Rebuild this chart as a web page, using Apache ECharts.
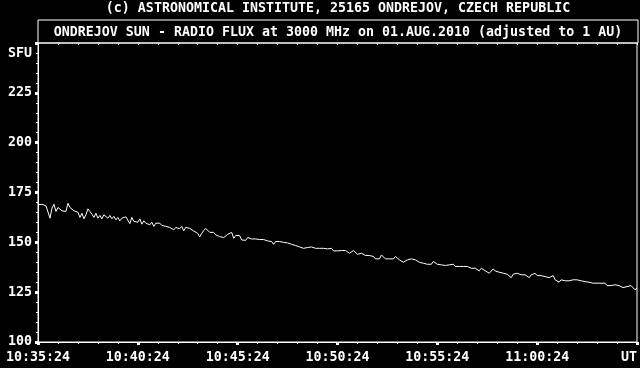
<!DOCTYPE html>
<html><head><meta charset="utf-8">
<script src="https://cdn.jsdelivr.net/npm/echarts@6/dist/echarts.min.js"></script>
<style>html,body{margin:0;padding:0;background:#000}#c{width:640px;height:368px}</style>
</head><body><div id="c"></div>
<script>
const titleTop = '(c) ASTRONOMICAL INSTITUTE, 25165 ONDREJOV, CZECH REPUBLIC';
const titleMain = 'ONDREJOV SUN - RADIO FLUX at 3000 MHz on 01.AUG.2010 (adjusted to 1 AU)';
const yUnit = 'SFU';
const sampleStep = 6; // seconds between samples, from 10:35:24 UT
const xTickLabels = ['10:35:24','10:40:24','10:45:24','10:50:24','10:55:24','11:00:24','UT'];
const yTickLabels = ['100','125','150','175','200','225',''];
const flux = [
168.8,168.5,169.1,170.1,168.3,167.5,162.1,167.1,169.1,165.5,
167.5,167.1,165.8,166.8,165.5,169.6,167.5,166.8,165.8,165.5,
165.1,162.5,164.6,161.8,163.8,166.8,165.5,164.1,162.5,164.6,
162.1,163.5,161.8,163.8,163.0,162.1,163.5,161.8,163.0,161.3,
162.5,160.8,162.1,161.3,162.8,161.8,159.4,162.5,160.5,161.3,
160.1,161.8,159.1,160.8,159.6,160.5,158.8,160.1,158.0,159.6,
158.8,159.6,158.5,158.8,158.0,158.5,157.5,158.5,156.3,157.5,
158.5,156.8,158.0,155.8,157.5,
157.4,157.0,156.7,155.7,155.4,154.5,152.7,154.5,155.9,157.0,
156.0,155.0,154.5,155.0,153.7,153.4,152.9,152.9,152.4,151.7,
154.0,153.7,155.0,152.0,153.4,152.4,153.4,151.2,150.7,151.0,
152.4,151.4,151.7,150.7,151.7,150.7,151.4,152.4,151.4,152.0,
150.7,151.0,150.4,149.0,150.4,150.0,150.4,150.0,150.0,150.4,
149.7,149.5,149.0,148.7,148.4,148.0,147.7,148.7,147.0,147.9,
147.4,147.0,147.7,146.7,147.0,147.4,147.0,147.0,147.0,146.4,
146.7,146.4,147.0,145.7,145.0,
145.7,146.2,145.9,145.7,145.9,145.4,144.5,145.4,145.9,145.0,
144.0,144.5,144.5,144.0,143.4,144.0,143.4,142.4,142.9,141.7,
142.4,141.7,143.7,144.5,141.7,142.4,141.7,142.4,141.7,142.9,
142.0,141.2,140.7,140.0,140.4,141.2,140.7,141.7,142.4,141.2,
140.4,140.0,140.7,139.5,140.4,139.0,140.0,139.0,140.4,139.5,
139.0,138.7,138.7,138.7,138.4,137.9,138.7,137.9,139.0,137.9,
137.0,137.9,137.4,137.9,137.4,137.9,138.4,137.0,136.2,137.0,
137.4,135.7,137.0,136.2,135.7,
135.6,134.5,135.3,136.7,135.6,136.2,135.0,135.3,134.5,135.0,
134.0,133.3,132.3,134.0,133.3,134.5,134.0,133.7,133.7,133.7,
134.0,132.3,133.7,132.8,134.5,133.3,132.3,133.3,132.3,132.8,
132.3,132.3,132.0,133.3,131.2,131.7,130.0,131.2,130.3,130.7,
131.2,130.7,131.2,131.2,130.7,131.2,130.3,130.7,130.0,130.3,
129.5,130.0,129.0,129.5,130.0,129.5,129.0,129.5,129.0,129.5,
128.3,129.0,128.3,127.8,128.7,128.7,128.3,127.8,127.3,127.3,
127.8,127.3,128.3,127.3,126.2,127.0
];

const FONT = '"DejaVu Sans Mono", "Liberation Mono", monospace';
const W = '#ffffff';
const chart = echarts.init(document.getElementById('c'), null, {renderer: 'canvas'});
const txt = {color: W, fontFamily: FONT, fontSize: 13.3, fontWeight: 'bold'};

chart.setOption({
  backgroundColor: '#000',
  animation: false,
  grid: {left: 38, right: 2, top: 43, bottom: 26, show: true, borderColor: W, borderWidth: 1, backgroundColor: 'transparent'},
  graphic: [
    {type: 'rect', shape: {x: 38, y: 20, width: 600, height: 23}, style: {fill: 'none', stroke: W, lineWidth: 1}, silent: true},
    {type: 'text', x: 338, y: 9, style: {text: titleTop, align: 'center', verticalAlign: 'middle', fill: W, font: 'bold 13.3px ' + FONT}},
    {type: 'text', x: 338, y: 32.5, style: {text: titleMain, align: 'center', verticalAlign: 'middle', fill: W, font: 'bold 13.3px ' + FONT}},
    {type: 'text', x: 32, y: 53.5, style: {text: yUnit, align: 'right', verticalAlign: 'middle', fill: W, font: 'bold 13.3px ' + FONT}}
  ],
  xAxis: [{
    type: 'value', min: 0, max: 1800, interval: 300,
    axisLine: {show: true, lineStyle: {color: W, width: 1}},
    axisTick: {show: true, length: 3, lineStyle: {color: W, width: 3}},
    minorTick: {show: true, splitNumber: 5, length: 2, lineStyle: {color: W, width: 1}},
    splitLine: {show: false},
    axisLabel: Object.assign({margin: 9, alignMaxLabel: 'right', formatter: v => xTickLabels[Math.round(v / 300)]}, txt)
  }, {
    type: 'value', position: 'top', min: 0, max: 1800, interval: 60,
    axisLine: {show: false},
    axisTick: {show: true, inside: true, length: 2, lineStyle: {color: W, width: 1}},
    axisLabel: {show: false}, splitLine: {show: false}
  }],
  yAxis: {
    type: 'value', min: 100, max: 250, interval: 25,
    axisLine: {show: true, lineStyle: {color: W, width: 1}},
    axisTick: {show: true, length: 3, lineStyle: {color: W, width: 3}},
    minorTick: {show: true, splitNumber: 5, length: 2, lineStyle: {color: W, width: 1}},
    splitLine: {show: false},
    axisLabel: Object.assign({margin: 6, padding: [5, 0, 0, 0], formatter: v => yTickLabels[Math.round((v - 100) / 25)]}, txt)
  },
  series: [{
    type: 'line', xAxisIndex: 0, showSymbol: false, symbol: 'none',
    lineStyle: {color: W, width: 1},
    data: flux.map((v, i) => [i * sampleStep, v])
  }]
});
</script></body></html>
